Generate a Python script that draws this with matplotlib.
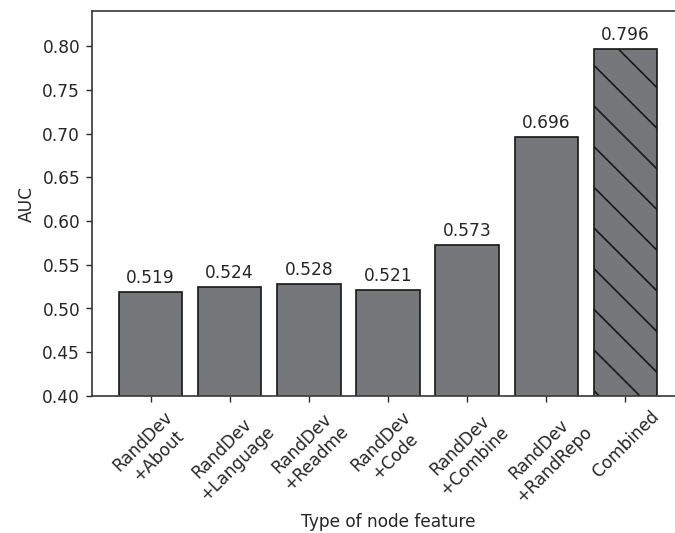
import matplotlib
matplotlib.use("Agg")
import matplotlib.pyplot as plt

# AUC per node-feature configuration
labels = ["RandDev\n+About", "RandDev\n+Language", "RandDev\n+Readme", "RandDev\n+Code",
          "RandDev\n+Combine", "RandDev\n+RandRepo", "Combined"]
auc = [0.519, 0.524, 0.528, 0.521, 0.573, 0.696, 0.796]
hatches = ["", "", "", "", "", "", "\\"]

DPI = 122

plt.rcParams.update({
    "font.size": 10,
    "axes.linewidth": 1.0,
    "hatch.linewidth": 1.0,
    "text.color": "#262626",
    "axes.labelcolor": "#262626",
    "xtick.color": "#262626",
    "ytick.color": "#262626",
    "axes.edgecolor": "#3a3a3a",
})

fig = plt.figure(figsize=(675 / DPI, 533 / DPI), dpi=DPI)
ax = fig.add_axes([92 / 675, 137 / 533, 592 / 675, 385 / 533])

bars = ax.bar(range(len(auc)), auc, width=0.8, color="#76777b",
              edgecolor="#1a1a1a", linewidth=1.0)
for b, h in zip(bars, hatches):
    b.set_hatch(h)

ax.bar_label(bars, labels=[f"{v:.3f}" for v in auc], padding=3)

ax.set_ylim(0.40, 0.84)
ax.set_yticks([0.40, 0.45, 0.50, 0.55, 0.60, 0.65, 0.70, 0.75, 0.80])
ax.set_xticks(range(len(labels)))
ax.set_xticklabels(labels, rotation=45, ha="center")
ax.set_xlim(-0.74, len(auc) - 0.26)
ax.set_ylabel("AUC")
ax.set_xlabel("Type of node feature")

fig.savefig("out.png", dpi=DPI)
